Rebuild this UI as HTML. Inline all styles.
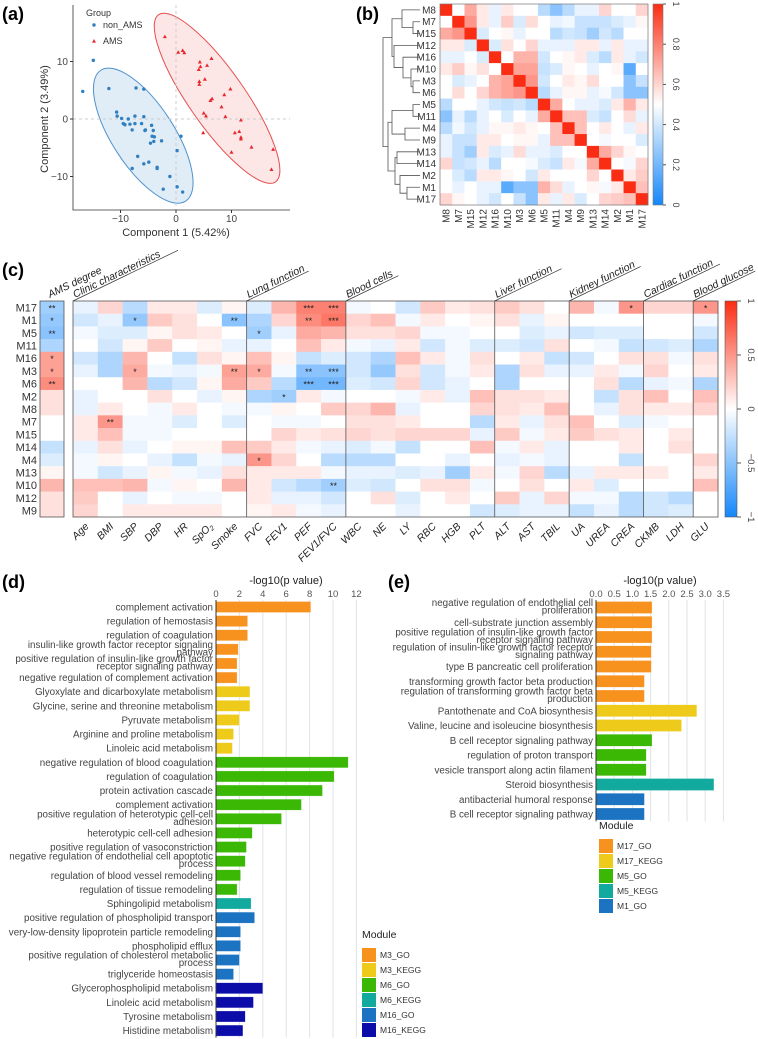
<!DOCTYPE html>
<html><head><meta charset="utf-8"><style>
html,body{margin:0;padding:0;background:#fff}
svg{display:block;font-family:"Liberation Sans",Arial,sans-serif}
</style></head><body>
<svg id="fig" width="758" height="1039" viewBox="0 0 758 1039" xmlns="http://www.w3.org/2000/svg">
<text x="2" y="20" font-size="18" font-weight="bold">(a)</text>
<text x="356" y="20" font-size="18" font-weight="bold">(b)</text>
<text x="2" y="276" font-size="18" font-weight="bold">(c)</text>
<text x="2" y="588" font-size="18" font-weight="bold">(d)</text>
<text x="388" y="588" font-size="18" font-weight="bold">(e)</text>
<g id="pa"></g>
<g id="pb"></g>
<g id="pc"></g>
<g id="pd"></g>
<g id="pe"></g>
</svg>
<script>
// ---------- Panel a data ----------
const nonAmsX=[-16.8,-14.9,-12.1,-7.2,-5.8,-10.7,-10.6,-9.8,-8.6,-7.4,-5.8,-9.5,-9.2,-8.3,-7.4,-6.2,-4.4,-7.9,-5.5,-5.6,-4.1,-4.3,-3.9,-4.6,-4.0,-2.6,0.9,0.2,-6.9,-4.9,-5.8,-3.4,-3.4,-7.9,-1.1,0.2,-2.3,1.2];
const nonAmsY=[4.8,10.2,5.3,5.4,5.2,1.2,0.5,0.1,0,0.5,0.4,-0.8,-1.0,-0.9,-0.8,-0.8,-1.1,-1.9,-1.9,-2.0,-2.0,-3.0,-3.1,-4.2,-3.9,-3.8,-3.0,-5.5,-6.5,-7.5,-7.8,-8.4,-8.6,-8.6,-10.0,-11.8,-12.2,-12.7];
const amsX=[-2.0,0.4,1.2,1.5,4.3,6.4,4.4,4.1,5.6,5.2,4.2,4.2,9.8,8.7,6.5,6.2,8.2,5.0,5.4,8.9,11.7,4.9,10.6,11.4,11.7,11.7,13.6,10.0,17.5,17.2];
const amsY=[14.3,11.6,11.9,11.5,9.9,10.5,9.1,8.6,9.3,6.9,6.5,6.0,5.2,4.2,3.5,3.2,2.1,1.0,0.5,0.4,-0.2,-2.4,-2.4,-2.2,-3.2,-3.5,-4.9,-5.8,-5.3,-8.8];
const pcaTicks=[-10,0,10];
// ---------- Panel b data ----------
const modOrder=["M8","M7","M15","M12","M16","M10","M3","M6","M5","M11","M4","M9","M13","M14","M2","M1","M17"];
const corrRows=[
[1,.5,.7,.55,.45,.55,.5,.5,.35,.25,.35,.45,.45,.6,.5,.5,.6],
[.5,1,.75,.55,.45,.62,.42,.58,.5,.45,.47,.38,.38,.38,.42,.45,.52],
[.7,.75,1,.42,.5,.52,.45,.5,.5,.35,.4,.38,.3,.4,.35,.5,.5],
[.55,.55,.42,1,.42,.57,.5,.6,.45,.45,.45,.55,.55,.45,.55,.45,.45],
[.45,.45,.5,.42,1,.5,.68,.68,.4,.5,.52,.55,.42,.35,.55,.45,.4],
[.55,.62,.52,.57,.5,1,.72,.72,.38,.42,.52,.5,.45,.5,.52,.15,.5],
[.5,.42,.45,.5,.68,.72,1,.75,.4,.5,.55,.52,.58,.5,.5,.25,.38],
[.5,.58,.5,.6,.68,.72,.75,1,.35,.45,.52,.52,.45,.48,.4,.25,.25],
[.35,.5,.5,.45,.4,.38,.4,.35,1,.7,.5,.45,.45,.42,.55,.68,.55],
[.25,.45,.35,.45,.5,.42,.5,.45,.7,1,.65,.65,.42,.38,.5,.58,.45],
[.35,.47,.4,.45,.52,.52,.55,.52,.5,.65,1,.65,.5,.55,.5,.45,.55],
[.45,.38,.38,.55,.55,.5,.52,.52,.45,.65,.65,1,.5,.48,.5,.5,.42],
[.45,.38,.3,.55,.42,.45,.58,.45,.45,.42,.5,.5,1,.7,.6,.52,.5],
[.6,.38,.4,.45,.35,.5,.5,.48,.42,.38,.55,.48,.7,1,.5,.48,.6],
[.5,.42,.35,.55,.55,.52,.5,.4,.55,.5,.5,.5,.6,.5,1,.55,.62],
[.5,.45,.5,.45,.45,.15,.25,.25,.68,.58,.45,.5,.52,.48,.55,1,.65],
[.6,.52,.5,.45,.4,.5,.38,.25,.55,.45,.55,.42,.5,.6,.62,.65,1]];
const corrTicks=[0,0.2,0.4,0.6,0.8,1];
// ---------- Panel c data ----------
const traitRows=["M17","M1","M5","M11","M16","M3","M6","M2","M8","M7","M15","M14","M4","M13","M10","M12","M9"];
const traitCols=["Age","BMI","SBP","DBP","HR","SpO2","Smoke","FVC","FEV1","PEF","FEV1/FVC","WBC","NE","LY","RBC","HGB","PLT","ALT","AST","TBIL","UA","UREA","CREA","CKMB","LDH","GLU"];
const amsDegree=[-.4,-.45,-.5,-.35,.45,.45,.55,.15,.15,0,0,-.25,-.15,.05,.35,.15,.15];
const amsStars=["**","*","**","","*","*","**","","","","","","","","","",""];
const traitVals=[
[-.1,.2,-.3,.1,.1,-.15,.05,-.15,.35,.6,.6,-.05,0,-.2,.25,.1,.15,.25,.15,0,.35,-.05,.5,.2,.2,.5],
[-.2,-.1,-.45,.25,.15,0,-.5,-.35,.2,.55,.65,.2,.3,-.05,.1,0,.05,.15,-.1,.05,0,0,0,0,0,-.05],
[-.05,-.15,-.15,.05,.15,.1,0,-.4,-.1,.4,.35,.15,.15,.2,-.05,-.05,0,0,-.15,-.1,-.2,-.15,-.15,0,0,-.2],
[0,-.2,.05,.25,0,.05,-.1,-.1,0,.3,.1,-.05,-.1,.1,-.2,-.05,-.15,-.15,-.2,.15,0,-.05,-.25,-.2,-.15,-.35],
[-.2,-.35,.35,0,-.25,.15,.05,.3,.05,-.25,-.15,-.2,-.35,.3,.1,-.05,.15,0,.1,-.25,-.2,0,.15,.15,-.05,.15],
[-.1,-.35,.4,-.05,-.1,-.05,.45,.4,-.05,-.5,-.5,-.2,-.45,.15,-.2,-.05,.1,-.35,.15,-.1,-.1,.1,-.05,.2,0,.1],
[0,0,.35,-.3,-.2,.05,.4,.25,-.3,-.6,-.6,-.15,-.2,.2,-.2,-.1,0,-.35,0,0,0,.15,-.3,-.1,-.05,-.35],
[-.1,0,0,.15,0,-.1,.05,-.35,-.4,.1,-.05,0,0,-.05,.1,-.1,.3,.15,.15,.1,0,-.25,.15,.3,0,.3],
[-.1,.1,0,-.05,.1,0,-.05,-.05,.05,0,.25,.2,.35,-.1,0,0,.2,.15,.1,.3,0,-.1,.15,.1,.1,.2],
[.1,.5,-.05,-.05,-.15,0,-.15,0,-.05,-.05,0,.15,.15,.1,0,0,-.3,.1,-.1,.15,.3,0,-.15,-.05,0,0],
[.1,.3,-.05,-.05,0,0,0,0,.2,.1,.15,.2,.15,.2,.2,.2,-.1,.25,-.05,.1,.25,.15,.1,0,.1,0],
[-.1,.15,-.1,0,.05,.05,.3,.25,.1,-.05,-.1,-.15,-.05,-.25,0,0,.3,-.05,.1,-.1,0,0,.1,0,.15,0],
[-.05,.05,0,-.1,-.25,-.05,-.1,.5,.2,0,-.3,-.3,-.3,0,0,-.1,0,-.1,-.05,-.1,0,0,-.25,0,0,.2],
[-.05,-.2,-.1,.05,-.05,-.1,.15,.1,.1,.1,-.05,-.1,-.1,-.15,-.1,-.4,.1,-.05,.2,-.3,-.1,.1,.1,.1,0,.1],
[.3,.3,.35,-.05,.05,0,.35,.1,-.2,-.3,-.4,-.15,-.2,0,.15,.15,-.05,0,.15,0,.1,-.15,0,0,0,.3],
[.25,0,-.1,0,-.05,-.05,0,.1,-.1,-.1,-.2,0,.15,-.15,0,.1,0,.25,-.1,.2,-.05,-.05,-.3,-.2,-.3,0],
[.2,0,.1,.1,.1,.1,0,.05,.1,-.05,-.1,0,0,-.1,0,0,-.2,-.15,-.1,-.1,-.25,-.1,-.3,-.2,-.15,0]];
const traitStars=[
{r:0,c:9,s:"***"},{r:0,c:10,s:"***"},{r:0,c:22,s:"*"},{r:0,c:25,s:"*"},
{r:1,c:2,s:"*"},{r:1,c:6,s:"**"},{r:1,c:9,s:"**"},{r:1,c:10,s:"***"},
{r:2,c:7,s:"*"},{r:5,c:2,s:"*"},{r:5,c:6,s:"**"},{r:5,c:7,s:"*"},{r:5,c:9,s:"**"},{r:5,c:10,s:"***"},
{r:6,c:9,s:"***"},{r:6,c:10,s:"***"},{r:7,c:8,s:"*"},{r:9,c:1,s:"**"},{r:12,c:7,s:"*"},{r:14,c:10,s:"**"}];
const groupNames=["Clinic characteristics","Lung function","Blood cells","Liver function","Kidney function","Cardiac function","Blood glucose"];
const groupStart=[0,7,11,17,20,23,25];
const traitTicks=[1,0.5,0,-0.5,-1];
// ---------- Panel d data ----------
const dTerms=["complement activation","regulation of hemostasis","regulation of coagulation","insulin-like growth factor receptor signaling|pathway","positive regulation of insulin-like growth factor|receptor signaling pathway","negative regulation of complement activation","Glyoxylate and dicarboxylate metabolism","Glycine, serine and threonine metabolism","Pyruvate metabolism","Arginine and proline metabolism","Linoleic acid metabolism","negative regulation of blood coagulation","regulation of coagulation","protein activation cascade","complement activation","positive regulation of heterotypic cell-cell|adhesion","heterotypic cell-cell adhesion","positive regulation of vasoconstriction","negative regulation of endothelial cell apoptotic|process","regulation of blood vessel remodeling","regulation of tissue remodeling","Sphingolipid metabolism","positive regulation of phospholipid transport","very-low-density lipoprotein particle remodeling","phospholipid efflux","positive regulation of cholesterol metabolic|process","triglyceride homeostasis","Glycerophospholipid metabolism","Linoleic acid metabolism","Tyrosine metabolism","Histidine metabolism"];
const dValues=[8.1,2.7,2.7,1.9,1.8,1.8,2.9,2.9,2.0,1.5,1.4,11.3,10.1,9.1,7.3,5.6,3.1,2.6,2.5,2.1,1.8,3.0,3.3,2.1,2.1,2.0,1.5,4.0,3.2,2.5,2.3];
const dModule=["M3_GO","M3_GO","M3_GO","M3_GO","M3_GO","M3_GO","M3_KEGG","M3_KEGG","M3_KEGG","M3_KEGG","M3_KEGG","M6_GO","M6_GO","M6_GO","M6_GO","M6_GO","M6_GO","M6_GO","M6_GO","M6_GO","M6_GO","M6_KEGG","M16_GO","M16_GO","M16_GO","M16_GO","M16_GO","M16_KEGG","M16_KEGG","M16_KEGG","M16_KEGG"];
const dLegend=["M3_GO","M3_KEGG","M6_GO","M6_KEGG","M16_GO","M16_KEGG"];
const dTicks=[0,2,4,6,8,10,12];
// ---------- Panel e data ----------
const eTerms=["negative regulation of endothelial cell|proliferation","cell-substrate junction assembly","positive regulation of insulin-like growth factor|receptor signaling pathway","regulation of insulin-like growth factor receptor|signaling pathway","type B pancreatic cell proliferation","transforming growth factor beta production","regulation of transforming growth factor beta|production","Pantothenate and CoA biosynthesis","Valine, leucine and isoleucine biosynthesis","B cell receptor signaling pathway","regulation of proton transport","vesicle transport along actin filament","Steroid biosynthesis","antibacterial humoral response","B cell receptor signaling pathway"];
const eValues=[1.54,1.54,1.54,1.52,1.52,1.33,1.33,2.77,2.35,1.54,1.38,1.38,3.24,1.33,1.33];
const eModule=["M17_GO","M17_GO","M17_GO","M17_GO","M17_GO","M17_GO","M17_GO","M17_KEGG","M17_KEGG","M5_GO","M5_GO","M5_GO","M5_KEGG","M1_GO","M1_GO"];
const eLegend=["M17_GO","M17_KEGG","M5_GO","M5_KEGG","M1_GO"];
const eTicks=[0,0.5,1,1.5,2,2.5,3,3.5];

const NS="http://www.w3.org/2000/svg";
function el(tag,attrs,parent){const e=document.createElementNS(NS,tag);for(const k in attrs)e.setAttribute(k,attrs[k]);parent.appendChild(e);return e;}
const moduleColor={M3_GO:"#f7921e",M17_GO:"#f7921e",M3_KEGG:"#eecb1a",M17_KEGG:"#eecb1a",M6_GO:"#3bb804",M5_GO:"#3bb804",M6_KEGG:"#12a99e",M5_KEGG:"#12a99e",M16_GO:"#1b73c2",M1_GO:"#1b73c2",M16_KEGG:"#0c0ca8"};
function div(v){ // -1..1
  const t=Math.max(-1,Math.min(1,v));
  let c;
  if(t>=0){c=[255+(250-255)*t,255+(45-255)*t,255+(20-255)*t];}
  else{const u=-t;c=[255+(20-255)*u,255+(135-255)*u,255+(250-255)*u];}
  return "rgb("+c.map(x=>Math.round(x)).join(",")+")";
}

// ===== Panel a =====
(function(){
const g=document.getElementById('pa');
const xs=v=>176+v*5.55, ys=v=>119-v*5.75;
let e;
e=el('ellipse',{cx:xs(-5.9),cy:ys(-2.9),rx:78,ry:31,transform:`rotate(57 ${xs(-5.9)} ${ys(-2.9)})`,fill:"rgba(47,127,193,0.15)",stroke:"#4f92cf","stroke-width":1},g);


e=el('ellipse',{cx:xs(7.4),cy:ys(3.6),rx:102,ry:28,transform:`rotate(55 ${xs(7.4)} ${ys(3.6)})`,fill:"rgba(230,60,60,0.13)",stroke:"#e55050","stroke-width":1},g);


e=el('line',{x1:xs(0),x2:xs(0),y1:5,y2:210,stroke:"#ccc","stroke-dasharray":"3,3"},g);


e=el('line',{x1:73,x2:290,y1:ys(0),y2:ys(0),stroke:"#ccc","stroke-dasharray":"3,3"},g);


e=el('path',{d:"M73,5 V210 H290",fill:"none",stroke:"#333","stroke-width":0.8},g);


pcaTicks.forEach(t=>{
  let a=el('text',{x:xs(t),y:222,"font-size":10,"text-anchor":"middle",fill:"#444"},g);a.textContent=t==-10?"−10":t;
  
  
  el('line',{x1:xs(t),x2:xs(t),y1:210,y2:213,stroke:"#333"},g);
  let b=el('text',{x:68,y:ys(t)+3.5,"font-size":10,"text-anchor":"end",fill:"#444"},g);b.textContent=t==-10?"−10":t;
  
  
  el('line',{x1:70,x2:73,y1:ys(t),y2:ys(t),stroke:"#333"},g);
});
e=el('text',{x:176,y:236,"font-size":11,"text-anchor":"middle",fill:"#333"},g);e.textContent="Component 1 (5.42%)";


e=el('text',{x:48,y:119,"font-size":11,"text-anchor":"middle",fill:"#333",transform:"rotate(-90 48 119)"},g);e.textContent="Component 2 (3.49%)";


nonAmsX.forEach((v,i)=>{const p=el('circle',{cx:xs(v),cy:ys(nonAmsY[i]),r:1.7,fill:"#2f7fc1"},g);
  
  });
amsX.forEach((v,i)=>{const x=xs(v),y=ys(amsY[i]);const p=el('path',{d:`M${x},${y-2.2} L${x+2},${y+1.4} L${x-2},${y+1.4}Z`,fill:"#e8282c"},g);
  
  });
e=el('text',{x:86,y:16,"font-size":9,fill:"#333"},g);e.textContent="Group";


el('circle',{cx:94,cy:25,r:1.7,fill:"#2f7fc1"},g);
e=el('text',{x:103,y:28,"font-size":9,fill:"#333"},g);e.textContent="non_AMS";


el('path',{d:"M94,39 L96,42.6 L92,42.6Z",fill:"#e8282c"},g);
e=el('text',{x:103,y:44,"font-size":9,fill:"#333"},g);e.textContent="AMS";


})();

// ===== Panel b =====
(function(){
const g=document.getElementById('pb');
const x0=440,y0=4,cw=208/17,ch=201/17,n=modOrder.length;
for(let i=0;i<n;i++)for(let j=0;j<n;j++){
  const v=corrRows[i][j];
  const r=el('rect',{x:x0+j*cw,y:y0+i*ch,width:cw+0.3,height:ch+0.3,fill:div((v-0.5)*2)},g);
  
  
}
el('rect',{x:x0,y:y0,width:208,height:201,fill:"none",stroke:"#777","stroke-width":0.7},g);
modOrder.forEach((m,i)=>{
  let t=el('text',{x:436,y:y0+(i+0.5)*ch+3.5,"font-size":10,"text-anchor":"end",fill:"#333"},g);t.textContent=m;
  
  
  const cx=x0+(i+0.5)*cw+3.5;
  let c=el('text',{x:cx,y:209,"font-size":10,"text-anchor":"end",fill:"#333",transform:`rotate(-90 ${cx} 209)`},g);c.textContent=m;
  
  
});
// dendrogram
const tree={x:383,c:[{x:392,c:[{x:402,c:[0,{x:413,c:[1,2]}]},{x:394,c:[3,{x:403,c:[4,{x:411,c:[5,{x:413,c:[6,7]}]}]}]}]},{x:388,c:[{x:392,c:[{x:413,c:[8,9]},{x:405,c:[10,11]}]},{x:395,c:[{x:397,c:[12,13]},{x:400,c:[14,{x:407,c:[15,16]}]}]}]}]};
function draw(nd){
  if(typeof nd==="number")return {y:y0+(nd+0.5)*ch,x:420};
  const a=draw(nd.c[0]),b=draw(nd.c[1]);
  const p=el('path',{d:`M${a.x},${a.y} H${nd.x} V${b.y} H${b.x}`,fill:"none",stroke:"#555","stroke-width":0.8},g);
  
  
  return {y:(a.y+b.y)/2,x:nd.x};
}
draw(tree);
// colorbar
const cb=el('defs',{},g);
const lg=el('linearGradient',{id:"gb",x1:0,y1:1,x2:0,y2:0},cb);
el('stop',{offset:"0",["stop-color"]:div(-1)},lg);el('stop',{offset:"0.5","stop-color":"#fff"},lg);el('stop',{offset:"1","stop-color":div(1)},lg);
let r=el('rect',{x:653,y:y0,width:10,height:201,fill:"url(#gb)",stroke:"#777","stroke-width":0.6},g);


corrTicks.forEach(t=>{const y=y0+201*(1-t);el('line',{x1:663,x2:666,y1:y,y2:y,stroke:"#555"},g);
  let tx=el('text',{x:673,y:y,"font-size":9,"text-anchor":"middle",fill:"#444",transform:`rotate(90 673 ${y})`},g);tx.textContent=t;
  
  });
})();

// ===== Panel c =====
(function(){
const g=document.getElementById('pc');
const x0=73,y0=301,cw=645/26,ch=216/17;
traitRows.forEach((m,i)=>{
  let t=el('text',{x:37,y:y0+(i+0.5)*ch+4,"font-size":11,"text-anchor":"end",fill:"#333"},g);t.textContent=m;
  
  
  let a=el('rect',{x:40,y:y0+i*ch,width:24,height:ch+0.3,fill:div(amsDegree[i])},g);
  
  
  if(amsStars[i]){let s=el('text',{x:52,y:y0+(i+0.5)*ch+4,"font-size":9,"text-anchor":"middle",fill:"#222"},g);s.textContent=amsStars[i];
    
    }
  traitVals[i].forEach((v,j)=>{
    const c=el('rect',{x:x0+j*cw,y:y0+i*ch,width:cw+0.3,height:ch+0.3,fill:div(v)},g);
    
    
  });
});
traitStars.forEach(o=>{let s=el('text',{x:x0+(o.c+0.5)*cw,y:y0+(o.r+0.5)*ch+4,"font-size":9,"text-anchor":"middle",fill:"#222"},g);s.textContent=o.s;
  
  });
el('rect',{x:40,y:y0,width:24,height:216,fill:"none",stroke:"#555","stroke-width":0.8},g);
el('rect',{x:x0,y:y0,width:645,height:216,fill:"none",stroke:"#555","stroke-width":0.8},g);
groupStart.forEach((s,k)=>{
  const x=x0+s*cw;
  if(k>0)el('line',{x1:x,x2:x,y1:y0,y2:y0+216,stroke:"#555","stroke-width":0.8},g);
  const L=groupNames[k].length*5.3;
  el('line',{x1:x,y1:y0,x2:x+L*Math.cos(0.45),y2:y0-L*Math.sin(0.45),stroke:"#333","stroke-width":0.7},g);
  let t=el('text',{x:x+2,y:y0-3,"font-size":10.5,"font-style":"italic",fill:"#222",transform:`rotate(-25.8 ${x+2} ${y0-3})`},g);t.textContent=groupNames[k];
  
  
});
let t=el('text',{x:50,y:298,"font-size":10.5,"font-style":"italic",fill:"#222",transform:"rotate(-25.8 50 298)"},g);t.textContent="AMS degree";


traitCols.forEach((c,j)=>{
  const x=x0+(j+0.5)*cw+4,y=527;
  let tx=el('text',{x:x,y:y,"font-size":10.5,"font-style":"italic","text-anchor":"end",fill:"#222",transform:`rotate(-45 ${x} ${y})`},g);
  if(c==="SpO2"){tx.textContent="SpO";const ts=el('tspan',{"font-size":7,dy:2},tx);ts.textContent="2";}
  else tx.textContent=c;
  
  
});
const df=el('defs',{},g);
const lg=el('linearGradient',{id:"gc",x1:0,y1:1,x2:0,y2:0},df);
el('stop',{offset:"0","stop-color":div(-1)},lg);el('stop',{offset:"0.5","stop-color":"#fff"},lg);el('stop',{offset:"1","stop-color":div(1)},lg);
let r=el('rect',{x:725,y:y0,width:12,height:216,fill:"url(#gc)",stroke:"#555","stroke-width":0.6},g);


traitTicks.forEach(v=>{const y=y0+216*(1-v)/2;el('line',{x1:737,x2:741,y1:y,y2:y,stroke:"#555"},g);
  let tx=el('text',{x:748,y:y,"font-size":9.5,"text-anchor":"middle",fill:"#444",transform:`rotate(90 748 ${y})`},g);tx.textContent=v<0?"−"+(-v):v;
  
  });
})();

// ===== Bar charts =====
function bars(gid,terms,vals,mods,ticks,x0,scale,y0,step,bh,axTitleX,legendX,legendY,legend,decimals){
  const g=document.getElementById(gid);
  const xs=v=>x0+v*scale;
  const yEnd=y0+step*(terms.length-1)+step/2;
  ticks.forEach(t=>{
    if(t>0){const l=el('line',{x1:xs(t),x2:xs(t),y1:y0-step/2,y2:yEnd,stroke:"#dde3ea","stroke-width":1},g);
      
      }
    const tx=el('text',{x:xs(t),y:y0-step/2-3,"font-size":9.5,"text-anchor":"middle",fill:"#555"},g);tx.textContent=decimals?t.toFixed(1):t;
    
    
  });
  const at=el('text',{x:axTitleX,y:y0-step/2-16,"font-size":11,"text-anchor":"middle",fill:"#222"},g);at.textContent="-log10(p value)";
  
  
  terms.forEach((t,i)=>{
    const y=y0+i*step;
    const b=el('rect',{x:x0,y:y-bh/2,width:vals[i]*scale,height:bh,fill:moduleColor[mods[i]],stroke:"rgba(255,255,255,0.5)","stroke-width":0.5},g);
    
    
    const parts=t.split("|");
    const tx=el('text',{x:x0-3,y:parts.length>1?y-1.5:y+3.5,"font-size":9.8,"text-anchor":"end",fill:"#444"},g);
    if(parts.length>1){const a=el('tspan',{x:x0-3},tx);a.textContent=parts[0];const c=el('tspan',{x:x0-3,dy:7.5},tx);c.textContent=parts[1];}
    else tx.textContent=t;
    
    
  });
  const ax=el('line',{x1:x0,x2:x0,y1:y0-step/2,y2:yEnd,stroke:"#333","stroke-width":1},g);
  
  
  const lt=el('text',{x:legendX,y:legendY,"font-size":10.5,fill:"#222"},g);lt.textContent="Module";
  
  
  legend.forEach((m,k)=>{
    const yc=legendY+17+k*15;
    el('rect',{x:legendX,y:yc-7,width:14,height:14,fill:moduleColor[m]},g);
    const tx=el('text',{x:legendX+18,y:yc+3,"font-size":8.5,fill:"#333"},g);tx.textContent=m;
    
    
  });
}
bars('pd',dTerms,dValues,dModule,dTicks,216,11.7,607,14.12,11,286,362,938,dLegend,false);
bars('pe',eTerms,eValues,eModule,eTicks,596,36.4,607.5,14.75,12,660,599,829,eLegend,true);
</script>
</body></html>
